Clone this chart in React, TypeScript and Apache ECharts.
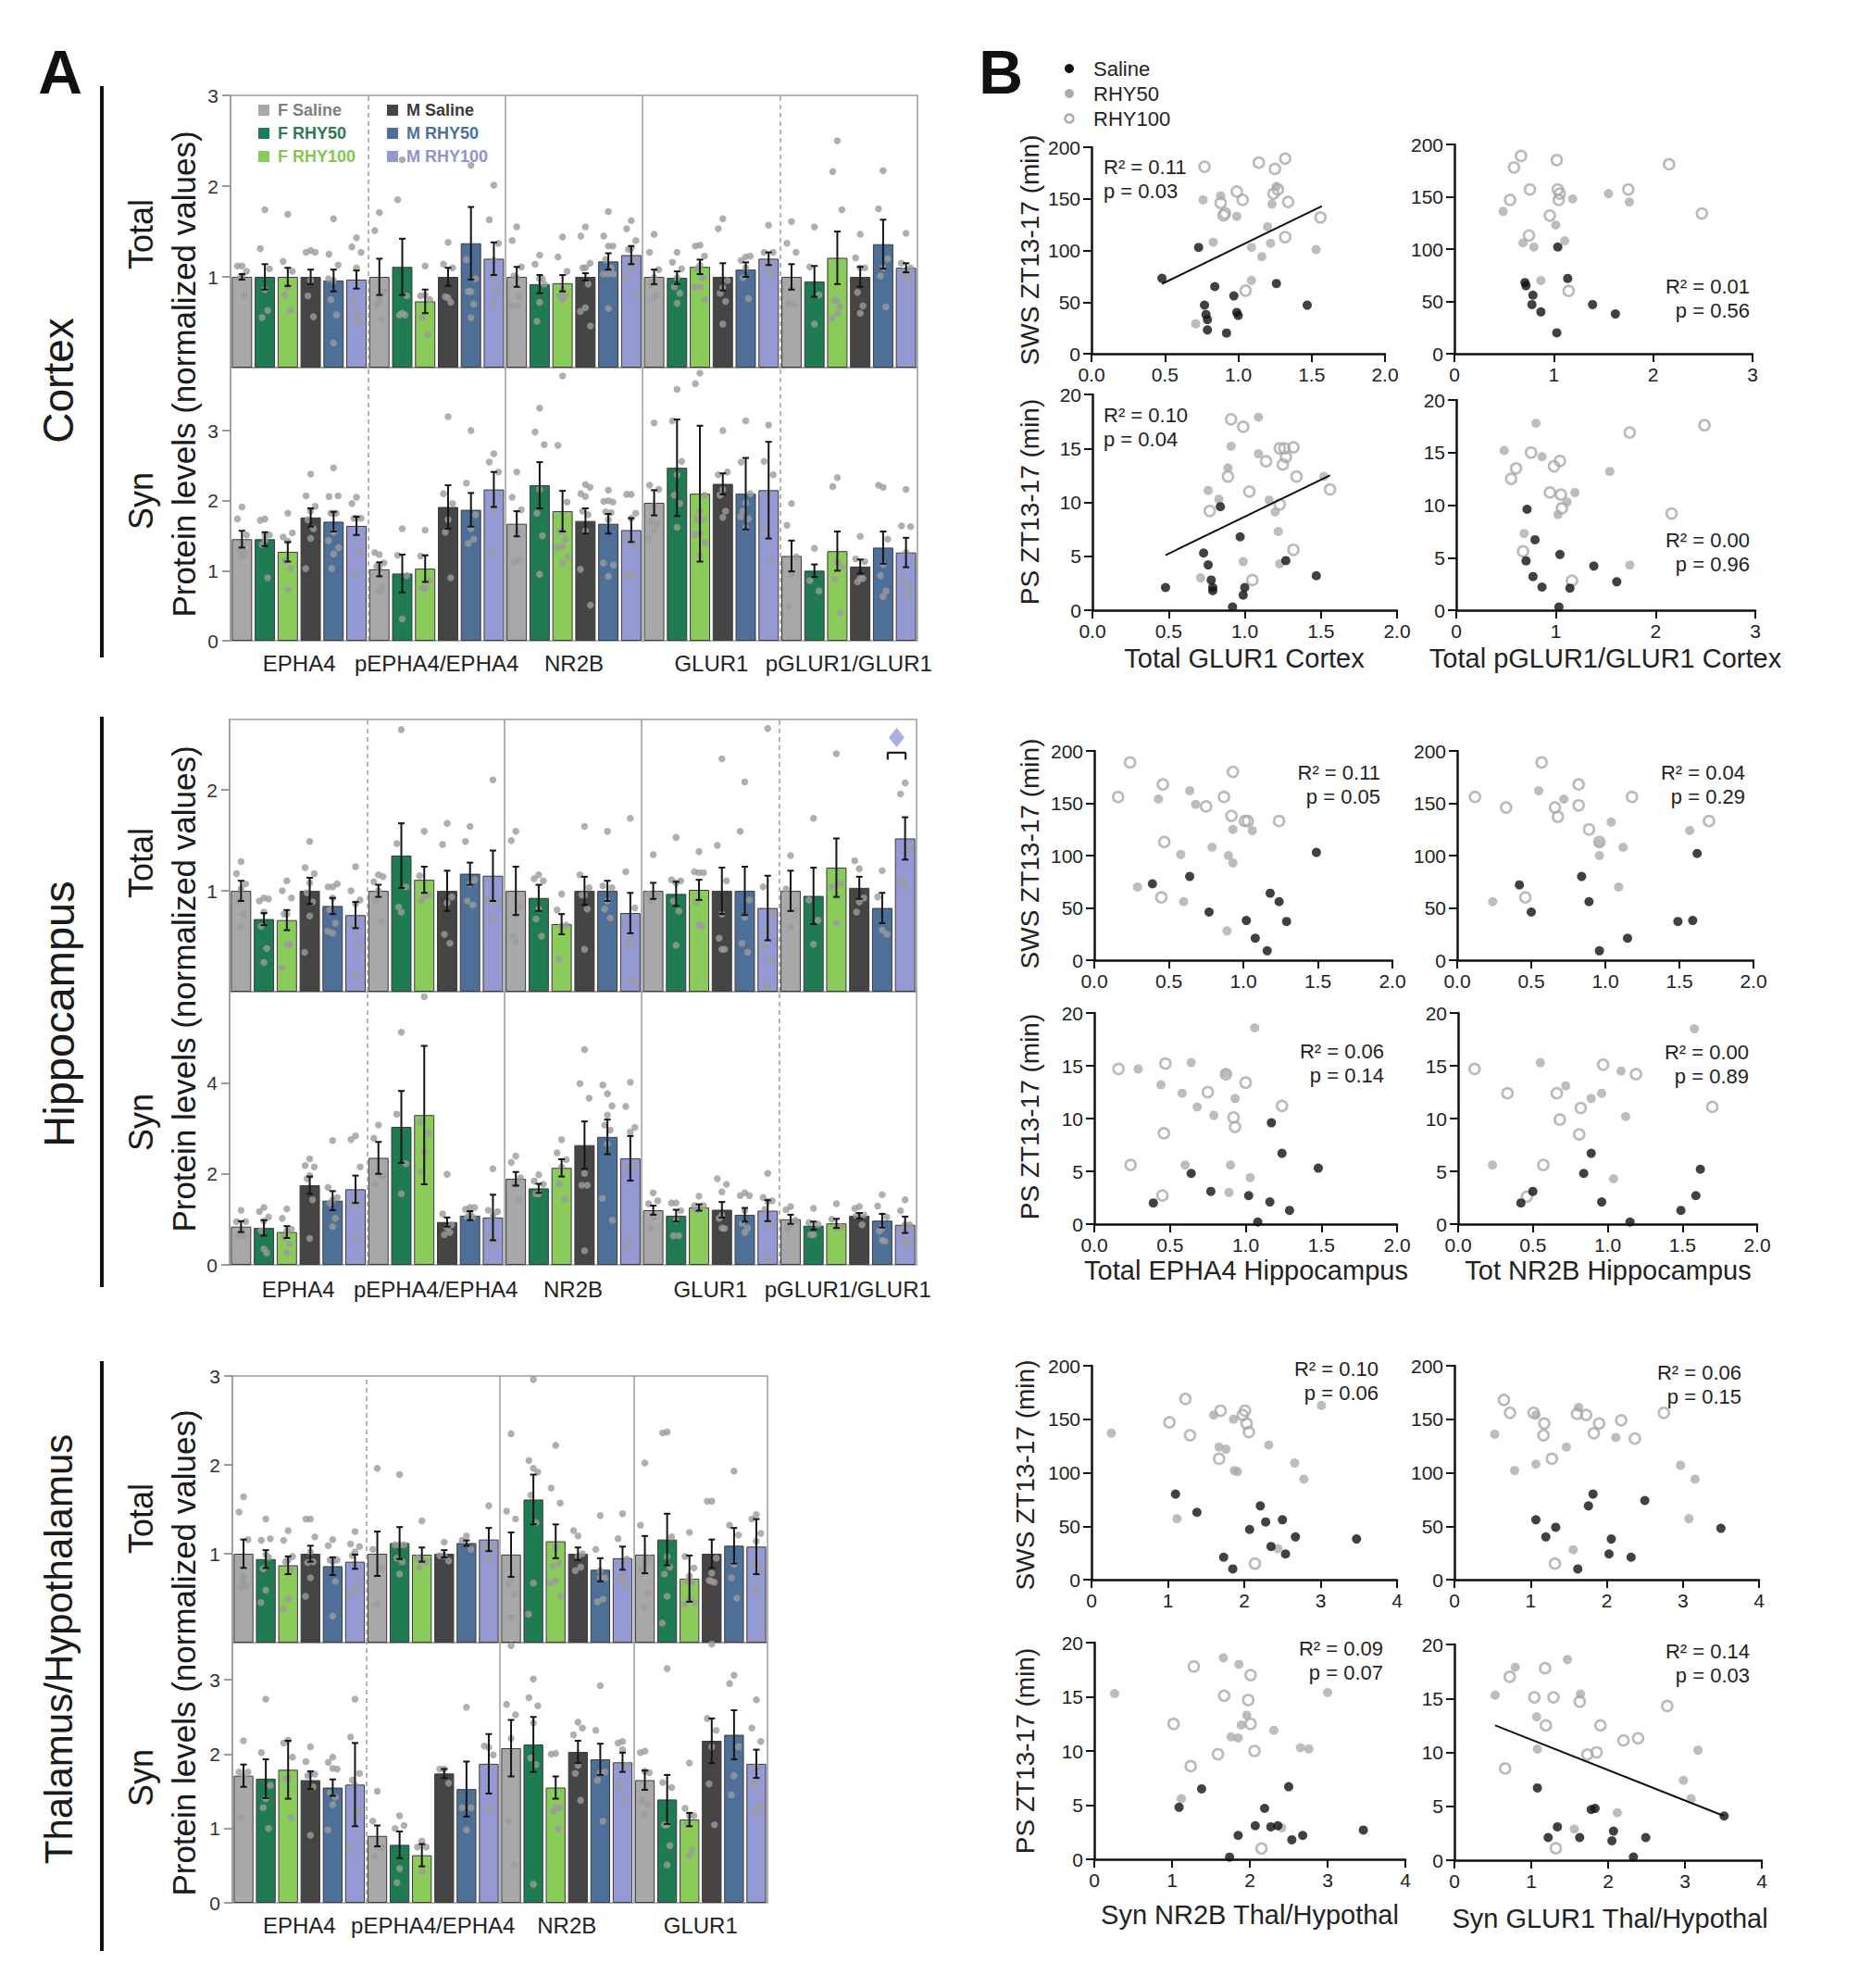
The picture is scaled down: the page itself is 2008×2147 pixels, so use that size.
import React, { useEffect, useRef } from "react";
import * as echarts from "echarts";

const FONT = "'Liberation Sans', Arial, Helvetica, sans-serif";
const W = 2008;
const H = 2147;

const GROUP_NAMES = ["F Saline", "F RHY50", "F RHY100", "M Saline", "M RHY50", "M RHY100"];
const GROUP_COLORS = ["#a8a8ab", "#1f7b51", "#8bcb59", "#454545", "#4e7098", "#9599d2"];
const LEGEND_TEXT_COLORS = ["#808080", "#2c7a52", "#86c650", "#3a3a3a", "#4e7098", "#8f93cf"];
const PROTEINS_5 = ["EPHA4", "pEPHA4/EPHA4", "NR2B", "GLUR1", "pGLUR1/GLUR1"];
const PROTEINS_4 = ["EPHA4", "pEPHA4/EPHA4", "NR2B", "GLUR1"];
const JITTER = [0, -0.2, 0.2, 0, -0.12, 0.12, 0, -0.22, 0.22, 0, -0.08, 0.08];

// ---------- Panel A: Cortex ----------
const CTX_TOTAL_MEAN = [
  [1.0, 1.0, 1.0, 1.0, 0.96, 0.97],
  [1.0, 1.11, 0.73, 1.0, 1.37, 1.2],
  [1.0, 0.92, 0.93, 1.0, 1.17, 1.24],
  [1.0, 0.99, 1.11, 1.0, 1.08, 1.2],
  [1.0, 0.95, 1.21, 1.0, 1.36, 1.1],
];
const CTX_TOTAL_SEM = [
  [0.03, 0.14, 0.1, 0.08, 0.12, 0.1],
  [0.2, 0.31, 0.13, 0.1, 0.4, 0.18],
  [0.11, 0.1, 0.09, 0.04, 0.09, 0.1],
  [0.08, 0.07, 0.08, 0.15, 0.08, 0.07],
  [0.14, 0.17, 0.29, 0.11, 0.27, 0.05],
];
const CTX_TOTAL_DOTS = [
  [[1.12, 1.12, 1.06, 1.01, 0.98, 0.8], [1.74, 1.31, 1.09, 0.86, 0.55, 0.63], [1.69, 1.17, 1.06, 0.89, 0.8, 0.63], [1.29, 1.27, 1.27, 0.96, 0.79, 0.56], [1.64, 1.25, 1.13, 0.96, 0.75, 0.58, 0.27, 0.98], [1.43, 1.33, 1.27, 1.1, 0.75, 0.51, 0.58]],
  [[1.71, 1.51, 0.84, 0.75, 0.69, 0.53], [2.29, 1.85, 0.79, 0.6, 0.58, 0.58], [1.12, 0.79, 0.75, 0.8, 0.55, 0.36], [1.38, 1.14, 1.1, 0.77, 0.78, 0.72], [2.23, 1.19, 0.98, 0.84, 0.84, 0.7, 0.55], [2.01, 1.63, 1.37, 1.18, 1.02, 0.86, 0.71]],
  [[1.55, 1.4, 1.11, 0.99, 1.01, 0.78, 0.68, 0.68], [1.24, 1.14, 0.92, 0.72, 0.51, 0.98, 0.98], [1.44, 1.22, 1.06, 0.86, 0.79, 0.79, 0.75], [1.55, 1.45, 1.15, 1.1, 1.1, 0.92, 0.66, 0.62, 0.46], [1.72, 1.45, 1.34, 1.34, 1.19, 1.1, 1.03, 1.03, 1.03, 0.65], [1.62, 1.53, 1.4, 1.31, 1.3, 1.18, 1.1, 0.99, 0.79]],
  [[1.47, 1.27, 1.08, 0.99, 0.92, 0.8, 0.77], [1.27, 1.16, 1.09, 0.99, 0.89, 0.82, 0.71], [1.35, 1.34, 1.23, 1.13, 1.09, 0.99, 0.89, 0.89, 0.75], [1.64, 1.53, 0.96, 0.88, 0.82, 0.73, 0.48], [1.22, 1.18, 1.23, 1.1, 0.99, 0.76], [1.57, 1.27, 1.27, 1.13, 1.13, 1.03]],
  [[1.61, 1.37, 1.27, 0.87, 0.7, 0.7], [1.55, 1.11, 0.8, 0.48], [2.5, 2.16, 1.74, 0.74, 0.74, 0.67, 0.6, 0.54], [1.47, 1.21, 1.1, 1.1, 0.83, 0.68, 0.6], [2.17, 1.75, 1.2, 1.1, 1.01, 0.67], [1.48, 1.15, 1.1, 1.03, 1.06, 0.97]],
];
const CTX_SYN_MEAN = [
  [1.45, 1.45, 1.27, 1.76, 1.7, 1.64],
  [1.02, 0.96, 1.03, 1.91, 1.87, 2.16],
  [1.67, 2.22, 1.85, 1.71, 1.67, 1.58],
  [1.97, 2.47, 2.1, 2.24, 2.1, 2.15],
  [1.21, 1.0, 1.28, 1.06, 1.33, 1.26],
];
const CTX_SYN_SEM = [
  [0.12, 0.1, 0.14, 0.13, 0.14, 0.13],
  [0.1, 0.27, 0.19, 0.31, 0.24, 0.25],
  [0.18, 0.33, 0.29, 0.18, 0.14, 0.17],
  [0.18, 0.69, 0.97, 0.15, 0.51, 0.69],
  [0.22, 0.09, 0.28, 0.1, 0.23, 0.21],
];
const CTX_SYN_DOTS = [
  [[1.91, 1.74, 1.51, 1.37, 1.31, 1.25, 1.21], [1.74, 1.72, 1.51, 1.51, 1.37, 0.9, 1.44], [1.82, 1.48, 1.54, 1.42, 1.14, 1.03, 0.73], [2.38, 2.07, 1.92, 1.85, 1.73, 1.6, 1.46, 1.03], [2.47, 2.06, 2.07, 1.82, 1.82, 1.82, 1.55, 1.43, 1.33, 1.24, 1.03], [2.05, 1.96, 1.75, 1.75, 1.75, 1.26, 0.95]],
  [[1.23, 1.26, 1.11, 1.06, 1.06, 0.77, 0.7], [1.6, 1.22, 0.93, 0.31], [1.58, 1.21, 0.86, 0.75, 0.75], [3.2, 2.1, 1.96, 1.73, 1.55, 0.9], [3.0, 2.25, 1.8, 1.6, 1.39, 1.45], [2.67, 2.55, 2.41, 1.88, 1.26]],
  [[2.41, 2.05, 1.87, 1.55, 1.12, 1.16], [3.32, 2.98, 2.8, 2.16, 1.82, 1.5, 0.95], [3.78, 2.79, 1.98, 1.56, 1.56, 1.45, 1.35, 1.33, 1.2, 1.11], [2.23, 2.1, 2.19, 2.06, 1.85, 1.8, 1.57, 1.02, 0.51], [2.15, 1.99, 1.98, 2.0, 1.84, 1.83, 1.73, 1.11, 1.08, 0.92], [2.09, 2.09, 1.82, 1.75, 1.45, 1.36, 0.93, 0.93]],
  [[3.11, 2.22, 2.16, 1.93, 1.7, 1.67, 1.58, 1.46], [3.59, 3.14, 2.56, 2.37, 2.08, 1.96, 1.62], [3.82, 3.67, 2.08, 1.85, 1.73, 1.73, 1.53, 1.51, 1.4, 1.21], [3.0, 2.37, 2.41, 2.16, 2.08, 1.85, 1.76], [3.14, 2.55, 2.1, 1.97, 1.85, 1.74, 1.62, 1.77], [3.08, 2.56, 2.37, 2.1, 1.6, 1.17]],
  [[1.96, 1.65, 1.2, 0.95, 0.5], [1.32, 0.86, 0.71], [2.33, 2.2, 1.05, 1.13, 0.88, 0.4], [1.49, 1.17, 1.13, 0.89, 0.84, 0.89], [2.19, 2.22, 1.45, 1.09, 0.93, 0.71, 0.63], [2.16, 1.64, 1.63, 1.26, 0.89, 0.75, 0.65]],
];

// ---------- Panel A: Hippocampus ----------
const HIPP_TOTAL_MEAN = [
  [1.0, 0.72, 0.71, 1.0, 0.85, 0.76],
  [1.0, 1.35, 1.11, 1.0, 1.17, 1.15],
  [1.0, 0.93, 0.67, 1.0, 1.0, 0.78],
  [1.0, 0.97, 1.01, 1.0, 1.0, 0.83],
  [1.0, 0.95, 1.23, 1.03, 0.83, 1.52],
];
const HIPP_TOTAL_SEM = [
  [0.1, 0.06, 0.1, 0.13, 0.08, 0.13],
  [0.06, 0.32, 0.13, 0.2, 0.11, 0.25],
  [0.24, 0.13, 0.1, 0.14, 0.1, 0.2],
  [0.08, 0.12, 0.1, 0.23, 0.24, 0.32],
  [0.2, 0.28, 0.29, 0.11, 0.15, 0.21],
];
const HIPP_TOTAL_DOTS = [
  [[1.29, 1.17, 1.07, 1.02, 0.9, 0.77, 0.64], [0.93, 0.9, 0.92, 0.79, 0.65, 0.43, 0.29], [1.1, 1.0, 0.93, 0.77, 0.77, 0.47, 0.47, 0.24], [1.49, 1.23, 1.17, 1.08, 0.98, 0.89, 0.75, 0.39], [1.04, 1.04, 1.07, 0.93, 0.81, 0.68, 0.58, 0.6], [1.24, 1.0, 0.91, 0.87, 0.67, 0.45, 0.16]],
  [[1.16, 1.09, 1.14, 1.0, 0.91, 0.7], [2.6, 1.47, 1.04, 0.79, 0.84], [1.59, 1.15, 0.96, 0.95, 0.9], [1.67, 1.46, 0.94, 0.88, 0.57, 0.48], [1.64, 1.49, 1.11, 1.07, 0.9, 0.86], [2.1, 0.91, 0.88, 0.72]],
  [[1.59, 1.5, 0.85, 0.5, 0.55], [1.16, 1.12, 1.1, 0.82, 0.72, 0.55], [0.97, 0.81, 0.66, 0.65, 0.32], [1.64, 1.16, 1.03, 0.96, 0.96, 0.82, 0.42], [1.59, 1.05, 1.03, 0.9, 0.82, 0.73], [1.72, 1.19, 0.83, 0.5, 0.46, 0.11]],
  [[1.36, 0.97, 0.96, 0.93, 0.9], [1.53, 1.11, 1.1, 1.08, 0.9, 0.8, 0.46], [1.39, 1.19, 1.18, 1.18, 0.89, 0.65, 0.66], [2.31, 1.45, 1.1, 0.77, 0.53, 0.42, 0.42], [2.08, 1.59, 0.91, 0.74, 0.48, 0.39], [2.61, 1.04, 0.77, 0.6, 0.45, 0.32, 0.05]],
  [[1.35, 1.02, 0.81, 0.64], [1.72, 0.91, 0.71, 0.47], [2.36, 1.04, 1.07, 0.68], [1.22, 1.3, 0.93, 0.89, 0.79], [1.2, 0.94, 0.57, 0.61], [2.07, 1.96, 1.42, 1.04, 1.09]],
];
const HIPP_SIG_MARK = [[29.13, 2.52]];
const HIPP_SIG_BRACKET = [[28.74, 2.3], [28.74, 2.37], [29.52, 2.37], [29.52, 2.3]];
const HIPP_SYN_MEAN = [
  [0.84, 0.81, 0.72, 1.75, 1.41, 1.66],
  [2.35, 3.03, 3.29, 0.94, 1.08, 1.04],
  [1.89, 1.68, 2.13, 2.63, 2.81, 2.34],
  [1.2, 1.08, 1.26, 1.21, 1.1, 1.19],
  [1.0, 0.86, 0.91, 1.08, 0.97, 0.88],
];
const HIPP_SYN_SEM = [
  [0.12, 0.17, 0.13, 0.19, 0.21, 0.3],
  [0.35, 0.79, 1.52, 0.1, 0.1, 0.5],
  [0.15, 0.1, 0.19, 0.52, 0.38, 0.49],
  [0.1, 0.13, 0.07, 0.17, 0.15, 0.23],
  [0.1, 0.09, 0.1, 0.06, 0.15, 0.18],
];
const HIPP_SYN_DOTS = [
  [[1.2, 0.95, 0.95, 0.75, 0.64, 0.64], [1.26, 1.17, 1.05, 0.96, 0.75, 0.26, 0.35], [1.23, 1.02, 0.78, 0.75, 0.6, 0.45, 0.27], [2.33, 2.18, 2.15, 1.96, 1.89, 1.43, 0.58], [2.73, 1.7, 1.48, 1.43, 1.36, 1.02, 0.84], [2.83, 2.75, 2.15, 1.56, 1.36, 1.36, 0.58]],
  [[3.07, 2.78, 1.94, 1.99, 1.77], [5.11, 3.31, 2.22, 1.56], [5.89, 3.13, 2.9, 2.49, 2.04], [1.99, 1.12, 0.88, 0.81, 0.66, 0.71], [1.26, 1.22, 1.26, 1.14, 1.05, 1.05], [2.11, 1.2, 1.17, 1.08, 0.6, 0.48, 0.55]],
  [[2.39, 2.25, 1.91, 1.77, 1.77, 1.43], [1.98, 1.84, 1.77, 1.56, 1.56], [2.75, 2.46, 2.31, 2.15, 1.78, 1.44], [4.73, 3.98, 3.66, 2.01, 1.75, 1.75, 0.31], [3.76, 3.95, 3.49, 3.29, 3.07, 2.96, 2.66, 1.46, 0.98], [4.01, 3.48, 3.02, 2.92, 2.15, 2.15, 0.54, 0.36]],
  [[1.58, 1.34, 1.41, 1.05, 0.8], [1.36, 1.36, 1.19, 0.98, 0.64, 0.64], [1.51, 1.3, 1.3, 1.22, 1.2], [1.6, 1.89, 1.77, 1.1, 1.02, 0.8, 0.81], [1.58, 1.52, 1.52, 1.19, 0.91, 0.81, 0.71], [2.01, 1.48, 1.41, 1.39, 1.22, 0.88, 0.14]],
  [[1.28, 1.21, 0.98, 0.88, 0.8], [1.24, 0.93, 0.89, 0.66, 0.66], [1.34, 1.0, 0.83, 0.81], [1.28, 1.24, 1.1, 1.08, 1.08, 0.88], [1.54, 1.29, 1.05, 0.81, 0.74, 0.52, 0.54], [1.43, 1.19, 0.88, 0.88, 0.71, 0.48, 0.52]],
];

// ---------- Panel A: Thalamus/Hypothalamus ----------
const THAL_TOTAL_MEAN = [
  [1.0, 0.94, 0.87, 1.0, 0.86, 0.91],
  [1.0, 1.12, 0.99, 1.0, 1.12, 1.16],
  [0.99, 1.61, 1.14, 1.0, 0.82, 0.95],
  [0.99, 1.16, 0.72, 1.0, 1.09, 1.08],
];
const THAL_TOTAL_SEM = [
  [0.16, 0.1, 0.1, 0.09, 0.1, 0.08],
  [0.25, 0.18, 0.08, 0.04, 0.03, 0.13],
  [0.25, 0.28, 0.19, 0.07, 0.13, 0.13],
  [0.21, 0.29, 0.26, 0.16, 0.2, 0.31],
];
const THAL_TOTAL_DOTS = [
  [[1.64, 1.47, 1.16, 0.69, 0.62, 0.63, 0.75], [1.39, 1.15, 1.17, 0.99, 0.83, 0.96, 0.59, 0.45], [1.26, 1.15, 0.97, 0.93, 0.91, 0.82, 0.49, 0.38], [1.39, 1.39, 1.19, 1.02, 0.9, 0.91, 0.73, 0.52], [1.16, 1.09, 0.93, 0.91, 0.93, 0.69, 0.3], [1.25, 1.11, 1.08, 1.02, 0.98, 0.63, 0.62, 0.55]],
  [[1.96, 1.05, 0.83, 0.43], [1.89, 1.1, 1.1, 1.1, 0.95, 0.91, 0.77], [1.37, 0.95, 0.91, 0.95, 0.85], [1.13, 0.98, 0.92, 0.98], [1.2, 1.15, 1.05], [1.54, 1.09, 1.05, 0.95]],
  [[2.35, 1.48, 1.39, 0.72, 0.66, 0.54, 0.28], [2.96, 2.05, 1.92, 1.96, 1.66, 1.35, 0.67, 0.32], [2.22, 1.74, 1.57, 1.07, 0.86, 0.89, 0.7, 0.67, 0.52], [1.2, 1.26, 1.0, 0.97, 0.81, 0.85], [1.43, 1.05, 0.73, 0.73, 0.46, 0.49, 0.81], [1.45, 1.17, 0.94, 0.75, 0.71, 0.66]],
  [[2.02, 1.32, 0.95, 0.89, 0.82, 0.55, 0.39], [2.37, 2.36, 1.19, 0.97, 0.77, 0.85, 0.52, 0.22], [1.24, 0.97, 0.84, 0.75, 0.69, 0.68, 0.49, 0.43, 0.45], [1.59, 1.59, 0.95, 0.78, 0.7, 0.68, 0.69], [1.93, 1.32, 1.21, 0.88, 0.73, 0.5], [1.44, 1.39, 1.23, 1.14, 0.89, 0.83, 0.61]],
];
const THAL_SYN_MEAN = [
  [1.71, 1.67, 1.79, 1.65, 1.55, 1.59],
  [0.9, 0.78, 0.64, 1.74, 1.53, 1.87],
  [2.08, 2.13, 1.55, 2.03, 1.93, 1.89],
  [1.65, 1.39, 1.12, 2.18, 2.26, 1.87],
];
const THAL_SYN_SEM = [
  [0.15, 0.26, 0.39, 0.12, 0.11, 0.56],
  [0.14, 0.18, 0.15, 0.06, 0.37, 0.4],
  [0.38, 0.37, 0.15, 0.15, 0.21, 0.13],
  [0.13, 0.33, 0.09, 0.3, 0.33, 0.19],
];
const THAL_SYN_DOTS = [
  [[2.18, 1.76, 1.76, 1.7, 1.15], [2.74, 2.02, 1.58, 1.4, 1.28, 1.0], [2.19, 2.15, 1.96, 1.67, 1.67, 1.15], [2.1, 1.9, 1.73, 1.73, 1.71, 1.56, 0.91], [1.96, 1.89, 1.8, 1.81, 1.48, 1.42, 1.32, 0.98], [2.74, 2.23, 1.74, 1.58, 1.65, 1.24, 1.13, 0.72]],
  [[1.5, 1.1, 0.74, 0.75, 0.63], [1.17, 1.0, 1.04, 0.46, 0.27], [0.83, 0.75, 0.75, 0.42], [1.8, 1.8, 1.61], [2.63, 1.28, 1.28, 0.98], [2.09, 2.11, 1.99, 1.27]],
  [[3.46, 2.67, 2.53, 2.21, 1.1, 0.51], [3.01, 2.76, 2.65, 2.42, 1.95, 1.86, 0.25], [2.01, 2.0, 1.28, 1.28, 1.23, 1.0], [2.43, 2.26, 2.35, 1.85, 1.74, 1.38], [2.92, 2.32, 1.76, 1.75, 1.65, 1.1], [2.17, 2.15, 1.85, 2.06, 1.59, 1.37]],
  [[2.04, 2.02, 1.75, 1.77, 1.38, 1.32, 1.19], [3.15, 1.62, 1.55, 1.05, 1.05, 0.77, 0.51], [1.88, 1.27, 1.17, 1.17, 1.06, 0.71, 0.63], [3.48, 2.48, 2.32, 2.1, 1.6, 1.05], [3.06, 2.95, 2.1, 1.71, 1.45], [2.73, 2.35, 2.17, 1.83, 1.6, 1.3, 1.25]],
];

// ---------- Panel B: scatter data ----------
const C_SWS_GLUR1_SAL = [[0.73, 103], [0.48, 73], [0.84, 65], [0.97, 56], [1.26, 68], [0.77, 47], [0.78, 38], [0.79, 33], [0.99, 40], [1.0, 37], [1.47, 47], [0.79, 23], [0.92, 20]];
const C_SWS_GLUR1_R50 = [[0.76, 149], [0.88, 153], [0.99, 133], [0.83, 108], [1.2, 123], [1.23, 145], [1.26, 162], [1.22, 107], [1.09, 103], [1.16, 94], [1.09, 71], [1.53, 101], [0.71, 29]];
const C_SWS_GLUR1_R100 = [[0.77, 181], [1.14, 185], [1.25, 179], [1.32, 189], [0.99, 157], [1.03, 149], [0.88, 146], [0.9, 134], [0.91, 136], [1.34, 147], [1.56, 132], [1.32, 113], [1.05, 61], [1.24, 155], [1.27, 159]];
const C_SWS_PGLUR1_SAL = [[1.04, 102], [0.71, 68], [0.72, 65], [1.14, 72], [0.79, 56], [0.78, 47], [0.87, 40], [1.39, 47], [1.62, 38], [1.03, 20]];
const C_SWS_PGLUR1_R50 = [[0.49, 136], [0.69, 106], [0.8, 102], [0.87, 70], [1.02, 123], [1.19, 148], [1.11, 108], [1.55, 153], [1.76, 145]];
const C_SWS_PGLUR1_R100 = [[0.67, 189], [0.6, 178], [1.03, 185], [0.56, 147], [0.76, 157], [1.04, 157], [1.06, 153], [1.05, 147], [0.96, 132], [0.75, 113], [2.16, 181], [1.75, 157], [2.49, 134], [1.15, 60]];
const C_PS_GLUR1_SAL = [[0.48, 2.1], [0.73, 5.3], [0.76, 4.2], [0.78, 2.8], [0.79, 2.1], [0.79, 1.8], [0.84, 9.6], [0.97, 6.8], [1.0, 2.1], [0.99, 1.4], [0.92, 0.3], [1.27, 4.6], [1.47, 3.2]];
const C_PS_GLUR1_R50 = [[0.76, 11.1], [0.89, 13.2], [0.91, 15.2], [0.83, 10.3], [1.09, 17.9], [1.09, 14.5], [1.16, 10.2], [1.2, 9.1], [1.22, 7.3], [0.99, 4.5], [1.23, 4.3], [1.52, 12.4], [0.71, 3.0]];
const C_PS_GLUR1_R100 = [[0.91, 17.7], [0.99, 17.0], [1.14, 13.8], [1.23, 15.0], [1.26, 15.0], [1.32, 15.1], [1.27, 14.2], [1.25, 13.5], [1.34, 12.4], [0.89, 12.4], [1.03, 11.0], [1.23, 9.8], [0.77, 9.2], [1.56, 11.2], [1.32, 5.6], [1.05, 2.8]];
const C_PS_PGLUR1_SAL = [[0.71, 9.6], [0.79, 6.7], [0.7, 4.7], [1.04, 5.3], [0.77, 3.2], [0.86, 2.2], [1.14, 2.1], [1.38, 4.2], [1.61, 2.7], [1.03, 0.3]];
const C_PS_PGLUR1_R50 = [[0.48, 15.2], [0.8, 17.8], [0.86, 14.6], [1.19, 11.2], [1.11, 10.3], [1.02, 9.1], [0.68, 7.3], [1.54, 13.2], [1.74, 4.3]];
const C_PS_PGLUR1_R100 = [[0.75, 15.0], [0.6, 13.5], [0.55, 12.5], [0.98, 13.7], [1.04, 14.2], [0.94, 11.2], [1.05, 11.0], [1.06, 9.7], [0.67, 5.6], [1.16, 2.8], [1.74, 16.9], [2.49, 17.6], [2.16, 9.2]];

const H_SWS_EPHA4_SAL = [[0.39, 73], [0.64, 80], [0.77, 46], [1.02, 38], [1.18, 64], [1.24, 56], [1.29, 37], [1.08, 21], [1.16, 9], [1.49, 103]];
const H_SWS_EPHA4_R50 = [[0.29, 70], [0.43, 154], [0.64, 162], [0.68, 149], [0.79, 108], [0.58, 101], [0.6, 56], [0.9, 100], [0.93, 93], [0.93, 125], [1.06, 124], [0.89, 28]];
const H_SWS_EPHA4_R100 = [[0.24, 189], [0.16, 156], [0.46, 168], [0.47, 113], [0.45, 60], [0.75, 147], [0.87, 156], [0.93, 180], [0.92, 138], [1.01, 133], [1.03, 133], [1.24, 133]];
const H_SWS_NR2B_SAL = [[0.42, 72], [0.5, 46], [0.84, 80], [0.89, 56], [0.96, 9], [1.15, 21], [1.49, 37], [1.59, 38], [1.62, 102]];
const H_SWS_NR2B_R50 = [[0.24, 56], [0.55, 162], [0.72, 154], [0.96, 112], [0.96, 100], [1.04, 132], [1.12, 108], [1.09, 70], [1.57, 124]];
const H_SWS_NR2B_R100 = [[0.12, 156], [0.33, 146], [0.57, 189], [0.66, 146], [0.68, 137], [0.82, 168], [0.82, 148], [0.89, 125], [0.96, 113], [1.18, 156], [1.7, 133], [0.46, 60]];
const H_PS_EPHA4_SAL = [[0.39, 2.0], [0.64, 4.8], [0.77, 3.1], [1.02, 2.7], [1.08, 0.2], [1.16, 2.1], [1.17, 9.6], [1.24, 6.7], [1.29, 1.3], [1.48, 5.3]];
const H_PS_EPHA4_R50 = [[0.29, 14.7], [0.44, 13.2], [0.58, 12.4], [0.64, 15.3], [0.68, 11.1], [0.79, 10.3], [0.87, 14.3], [0.93, 11.9], [0.9, 5.6], [0.6, 5.6], [0.89, 3.0], [1.03, 4.4], [1.06, 18.6]];
const H_PS_EPHA4_R100 = [[0.16, 14.7], [0.24, 5.6], [0.47, 15.2], [0.46, 8.6], [0.45, 2.7], [0.75, 12.5], [0.87, 14.2], [1.0, 13.4], [0.92, 10.1], [0.93, 9.2], [1.24, 11.2]];
const H_PS_NR2B_SAL = [[0.42, 2.0], [0.5, 3.1], [0.84, 4.8], [0.89, 6.7], [0.96, 2.1], [1.15, 0.2], [1.49, 1.3], [1.59, 2.7], [1.62, 5.2]];
const H_PS_NR2B_R50 = [[0.23, 5.6], [0.55, 15.3], [0.72, 13.1], [0.89, 11.9], [0.96, 12.4], [1.09, 14.5], [1.12, 10.2], [1.04, 4.3], [1.58, 18.5]];
const H_PS_NR2B_R100 = [[0.11, 14.7], [0.33, 12.4], [0.57, 5.6], [0.46, 2.6], [0.66, 12.4], [0.68, 9.9], [0.82, 11.0], [0.81, 8.5], [0.97, 15.1], [1.19, 14.2], [1.7, 11.1]];

const T_SWS_NR2B_SAL = [[1.1, 80], [1.38, 63], [1.73, 21], [1.85, 10], [2.07, 47], [2.21, 69], [2.28, 54], [2.35, 31], [2.5, 56], [2.54, 24], [2.67, 40], [3.47, 38]];
const T_SWS_NR2B_R50 = [[0.26, 137], [1.12, 57], [1.6, 154], [1.86, 150], [1.67, 124], [1.76, 122], [1.87, 102], [1.91, 101], [2.32, 126], [2.66, 109], [2.78, 94], [2.44, 29], [3.01, 163]];
const T_SWS_NR2B_R100 = [[1.23, 169], [1.02, 147], [1.29, 135], [1.69, 158], [1.67, 113], [2.01, 158], [1.98, 154], [2.03, 146], [2.06, 138], [2.14, 15]];
const T_SWS_GLUR1_SAL = [[1.07, 56], [1.2, 40], [1.33, 49], [1.62, 10], [1.76, 69], [1.82, 80], [2.03, 24], [2.06, 38], [2.32, 21], [2.5, 74], [3.5, 48]];
const T_SWS_GLUR1_R50 = [[0.53, 136], [0.79, 102], [1.07, 154], [1.07, 108], [1.47, 124], [1.63, 161], [1.56, 28], [2.12, 133], [2.97, 107], [3.16, 94], [3.08, 57]];
const T_SWS_GLUR1_R100 = [[0.65, 168], [0.73, 156], [1.04, 156], [1.18, 146], [1.17, 135], [1.28, 113], [1.61, 155], [1.73, 154], [1.9, 146], [1.83, 137], [2.19, 149], [2.37, 132], [2.75, 156], [1.32, 15]];
const T_PS_NR2B_SAL = [[1.09, 4.8], [1.38, 6.5], [1.74, 0.2], [1.85, 2.2], [2.07, 3.1], [2.19, 4.7], [2.27, 3.0], [2.36, 3.1], [2.5, 6.7], [2.54, 1.8], [2.68, 2.2], [3.46, 2.7]];
const T_PS_NR2B_R50 = [[0.26, 15.3], [1.12, 5.6], [1.66, 18.6], [1.86, 18.0], [1.76, 11.3], [1.85, 11.2], [1.89, 12.4], [1.96, 13.3], [2.31, 11.9], [2.65, 10.3], [2.76, 10.2], [2.41, 2.9], [3.0, 15.4]];
const T_PS_NR2B_R100 = [[1.28, 17.8], [1.02, 12.5], [1.24, 8.6], [1.67, 15.1], [1.59, 9.7], [2.01, 17.0], [1.98, 14.7], [2.01, 12.5], [2.06, 10.0], [2.15, 1.0]];
const T_PS_GLUR1_SAL = [[1.08, 6.7], [1.22, 2.1], [1.34, 3.1], [1.63, 2.1], [1.78, 4.7], [1.83, 4.8], [2.05, 1.8], [2.07, 2.7], [2.33, 0.3], [2.49, 2.1], [3.51, 4.1]];
const T_PS_GLUR1_R50 = [[0.53, 15.3], [0.79, 17.9], [1.08, 10.3], [1.07, 13.3], [1.47, 18.6], [1.64, 15.4], [1.56, 2.9], [2.12, 4.4], [2.98, 7.4], [3.08, 5.7], [3.17, 10.2]];
const T_PS_GLUR1_R100 = [[0.66, 8.5], [0.72, 17.0], [1.04, 15.1], [1.18, 17.8], [1.19, 12.5], [1.29, 15.1], [1.63, 14.7], [1.73, 9.8], [1.85, 10.0], [1.9, 12.5], [2.2, 11.1], [2.39, 11.3], [2.77, 14.3], [1.32, 1.1]];

const FIT_C_SWS_GLUR1 = [[0.48, 67.7], [1.57, 143]];
const FIT_C_PS_GLUR1 = [[0.48, 5.1], [1.56, 12.5]];
const FIT_T_PS_GLUR1 = [[0.53, 12.5], [3.51, 4.1]];

const STATS_R2 = ["0.11", "0.01", "0.10", "0.00", "0.11", "0.04", "0.06", "0.00", "0.10", "0.06", "0.09", "0.14"];
const STATS_P = ["0.03", "0.56", "0.04", "0.96", "0.05", "0.29", "0.14", "0.89", "0.06", "0.15", "0.07", "0.03"];
const SCATTER_LEGEND = ["Saline", "RHY50", "RHY100"];

function errRender(params: any, api: any) {
  const x = api.value(0);
  const lo = api.value(1);
  const hi = api.value(2);
  const a = api.coord([x, hi]);
  const b = api.coord([x, lo]);
  const w = 3.5;
  const st = { stroke: "#151515", lineWidth: 2 };
  return {
    type: "group",
    children: [
      { type: "line", shape: { x1: a[0], y1: a[1], x2: b[0], y2: b[1] }, style: st },
      { type: "line", shape: { x1: a[0] - w, y1: a[1], x2: a[0] + w, y2: a[1] }, style: st },
      { type: "line", shape: { x1: b[0] - w, y1: b[1], x2: b[0] + w, y2: b[1] }, style: st },
    ],
  };
}

function addBarPanel(o: any, c: any) {
  const nBars = c.means.length * 6;
  const gi = o.grid.length;
  o.grid.push({ left: c.left, top: c.top, width: c.width, height: c.height, show: true, borderColor: "#9b9b9b", borderWidth: 1.5, backgroundColor: "transparent" });
  const xi = o.xAxis.length;
  o.xAxis.push({ type: "value", gridIndex: gi, min: 0, max: nBars, show: false, splitLine: { show: false } });
  if (c.labels) {
    o.xAxis.push({
      type: "category", gridIndex: gi, data: c.labels, position: "bottom",
      axisLine: { show: false }, axisTick: { show: false }, splitLine: { show: false },
      axisLabel: { margin: c.labelMargin, fontSize: 24, color: "#222", fontFamily: FONT, interval: 0 },
    });
  }
  const yi = o.yAxis.length;
  o.yAxis.push({
    type: "value", gridIndex: gi, min: 0, max: c.yMax, interval: c.yInterval,
    axisLine: { show: true, lineStyle: { color: "#9b9b9b", width: 1.5 } },
    axisTick: { show: true, length: 9, lineStyle: { color: "#8f8f8f", width: 1.8 } },
    splitLine: { show: false },
    axisLabel: { showMinLabel: c.showMin, showMaxLabel: c.showMax, fontSize: 21, color: "#333", margin: 13, fontFamily: FONT },
  });
  const barData: any[] = [];
  const errData: any[] = [];
  const dotData: any[] = [];
  c.means.forEach((row: number[], p: number) =>
    row.forEach((m: number, g: number) => {
      const x = p * 6 + g + 0.5;
      barData.push({ value: [x, m], itemStyle: { color: GROUP_COLORS[g] } });
      errData.push([x, m - c.sems[p][g], m + c.sems[p][g]]);
      c.dots[p][g].forEach((v: number, k: number) => dotData.push([x + JITTER[k % JITTER.length], v]));
    })
  );
  o.series.push({
    type: "bar", xAxisIndex: xi, yAxisIndex: yi, barWidth: c.width / nBars - 2.8, data: barData,
    itemStyle: { borderColor: "#3a3a3a", borderWidth: 1 }, z: 2, silent: true,
    markLine: {
      silent: true, symbol: ["none", "none"], label: { show: false },
      data: c.separators.map((s: any) => ({ xAxis: s.x, lineStyle: { type: s.dashed ? [5, 4] : "solid", color: "#9b9b9b", width: 1.5 } })),
    },
  });
  o.series.push({ type: "scatter", xAxisIndex: xi, yAxisIndex: yi, data: dotData, symbolSize: 7.5, itemStyle: { color: "#9b9b9b" }, z: 3, silent: true });
  o.series.push({ type: "custom", xAxisIndex: xi, yAxisIndex: yi, data: errData, renderItem: errRender, encode: { x: 0, y: [1, 2] }, z: 4, silent: true });
  return { xi, yi };
}

function addScatterPanel(o: any, c: any, idx: number) {
  const gi = o.grid.length;
  o.grid.push({ left: c.left, top: c.top, width: c.width, height: c.height });
  const xi = o.xAxis.length;
  o.xAxis.push({
    type: "value", gridIndex: gi, min: 0, max: c.xMax, interval: c.xInt,
    axisLine: { show: true, onZero: false, lineStyle: { color: "#111", width: 2.5 } },
    axisTick: { show: true, length: 9, lineStyle: { color: "#111", width: 2 } },
    splitLine: { show: false },
    axisLabel: { fontSize: 21, color: "#222", margin: 12, fontFamily: FONT, formatter: (v: number) => (c.dec ? v.toFixed(1) : String(v)) },
  });
  const yi = o.yAxis.length;
  o.yAxis.push({
    type: "value", gridIndex: gi, min: 0, max: c.yMax, interval: c.yInt,
    axisLine: { show: true, onZero: false, lineStyle: { color: "#111", width: 2.5 } },
    axisTick: { show: true, length: 9, lineStyle: { color: "#111", width: 2 } },
    splitLine: { show: false },
    axisLabel: { fontSize: 21, color: "#222", margin: 12, fontFamily: FONT },
  });
  o.series.push({ type: "scatter", xAxisIndex: xi, yAxisIndex: yi, data: c.r50, symbolSize: 10, itemStyle: { color: "#acacac" }, z: 3, silent: true });
  o.series.push({ type: "scatter", xAxisIndex: xi, yAxisIndex: yi, data: c.r100, symbolSize: 11, itemStyle: { color: "transparent", borderColor: "#a9a9a9", borderWidth: 2.6 }, z: 3, silent: true });
  o.series.push({ type: "scatter", xAxisIndex: xi, yAxisIndex: yi, data: c.sal, symbolSize: 10, itemStyle: { color: "#111" }, z: 4, silent: true });
  if (c.fit) {
    o.series.push({ type: "line", xAxisIndex: xi, yAxisIndex: yi, data: c.fit, symbol: "none", lineStyle: { color: "#111", width: 2 }, z: 5, silent: true });
  }
  const align = c.statAlign;
  o.graphic.push({ type: "text", x: c.statX, y: c.statY, z: 50, style: { text: "R\u00b2 = " + STATS_R2[idx], fontSize: 22, fontFamily: FONT, fill: "#222", align, verticalAlign: "middle" } });
  o.graphic.push({ type: "text", x: c.statX, y: c.statY + 26, z: 50, style: { text: "p = " + STATS_P[idx], fontSize: 22, fontFamily: FONT, fill: "#222", align, verticalAlign: "middle" } });
  if (c.yTitle) {
    o.graphic.push({ type: "text", x: c.yTitle[1], y: c.yTitle[2], rotation: Math.PI / 2, z: 50, style: { text: c.yTitle[0], fontSize: 28, fontFamily: FONT, fill: "#222", align: "center", verticalAlign: "middle" } });
  }
  if (c.xTitle) {
    o.graphic.push({ type: "text", x: c.xTitle[1], y: c.xTitle[2], z: 50, style: { text: c.xTitle[0], fontSize: 29, fontFamily: FONT, fill: "#222", align: "center", verticalAlign: "middle" } });
  }
}

function vText(o: any, text: string, x: number, y: number, size: number, weight?: string) {
  o.graphic.push({ type: "text", x, y, rotation: Math.PI / 2, z: 50, style: { text, fontSize: size, fontFamily: FONT, fontWeight: weight || "normal", fill: "#1a1a1a", align: "center", verticalAlign: "middle" } });
}

function buildOption() {
  const o: any = { animation: false, backgroundColor: "#ffffff", textStyle: { fontFamily: FONT }, grid: [], xAxis: [], yAxis: [], series: [], graphic: [] };

  const SEP5 = [{ x: 6, dashed: true }, { x: 12, dashed: false }, { x: 18, dashed: false }, { x: 24, dashed: true }];
  const SEP4 = [{ x: 6, dashed: true }, { x: 12, dashed: false }, { x: 18, dashed: false }];

  addBarPanel(o, { left: 249, top: 103, width: 742, height: 294, means: CTX_TOTAL_MEAN, sems: CTX_TOTAL_SEM, dots: CTX_TOTAL_DOTS, yMax: 3, yInterval: 1, showMin: false, showMax: true, separators: SEP5 });
  addBarPanel(o, { left: 249, top: 397, width: 742, height: 295, means: CTX_SYN_MEAN, sems: CTX_SYN_SEM, dots: CTX_SYN_DOTS, yMax: 3.9, yInterval: 1, showMin: true, showMax: false, separators: SEP5, labels: PROTEINS_5, labelMargin: 12 });
  const hT = addBarPanel(o, { left: 248, top: 777, width: 742, height: 294, means: HIPP_TOTAL_MEAN, sems: HIPP_TOTAL_SEM, dots: HIPP_TOTAL_DOTS, yMax: 2.7, yInterval: 1, showMin: false, showMax: false, separators: SEP5 });
  addBarPanel(o, { left: 248, top: 1071, width: 742, height: 295, means: HIPP_SYN_MEAN, sems: HIPP_SYN_SEM, dots: HIPP_SYN_DOTS, yMax: 6, yInterval: 2, showMin: true, showMax: false, separators: SEP5, labels: PROTEINS_5, labelMargin: 14 });
  addBarPanel(o, { left: 251, top: 1486, width: 578, height: 288, means: THAL_TOTAL_MEAN, sems: THAL_TOTAL_SEM, dots: THAL_TOTAL_DOTS, yMax: 3, yInterval: 1, showMin: false, showMax: true, separators: SEP4 });
  addBarPanel(o, { left: 251, top: 1774, width: 578, height: 281, means: THAL_SYN_MEAN, sems: THAL_SYN_SEM, dots: THAL_SYN_DOTS, yMax: 3.5, yInterval: 1, showMin: true, showMax: false, separators: SEP4, labels: PROTEINS_4, labelMargin: 12 });

  // significance mark in hippocampus total
  o.series.push({ type: "scatter", xAxisIndex: hT.xi, yAxisIndex: hT.yi, data: HIPP_SIG_MARK, symbol: "diamond", symbolSize: [17, 21], itemStyle: { color: "#959bd2" }, z: 6, silent: true });
  o.series.push({ type: "line", xAxisIndex: hT.xi, yAxisIndex: hT.yi, data: HIPP_SIG_BRACKET, symbol: "none", lineStyle: { color: "#222", width: 2.2 }, z: 6, silent: true });

  // Legend of panel A
  const legX = [279, 418];
  const legY = [119, 144, 169];
  GROUP_NAMES.forEach((name, i) => {
    const col = i < 3 ? 0 : 1;
    const row = i % 3;
    o.graphic.push({ type: "rect", x: legX[col], y: legY[row] - 6, z: 50, shape: { width: 12, height: 12 }, style: { fill: GROUP_COLORS[i] } });
    o.graphic.push({ type: "text", x: legX[col] + 21, y: legY[row], z: 50, style: { text: name, fontSize: 18, fontWeight: "bold", fontFamily: FONT, fill: LEGEND_TEXT_COLORS[i], align: "left", verticalAlign: "middle" } });
  });

  // Panel letters
  o.graphic.push({ type: "text", x: 65, y: 78, z: 50, style: { text: "A", fontSize: 66, fontWeight: "bold", fontFamily: FONT, fill: "#111", align: "center", verticalAlign: "middle" } });
  o.graphic.push({ type: "text", x: 1081, y: 78, z: 50, style: { text: "B", fontSize: 66, fontWeight: "bold", fontFamily: FONT, fill: "#111", align: "center", verticalAlign: "middle" } });

  // Region side bars and labels
  o.graphic.push({ type: "rect", x: 108, y: 93, z: 50, shape: { width: 4, height: 617 }, style: { fill: "#111" } });
  o.graphic.push({ type: "rect", x: 108, y: 774, z: 50, shape: { width: 4, height: 616 }, style: { fill: "#111" } });
  o.graphic.push({ type: "rect", x: 108, y: 1470, z: 50, shape: { width: 4, height: 637 }, style: { fill: "#111" } });
  vText(o, "Cortex", 63, 411, 46);
  vText(o, "Hippocampus", 63, 1095, 47);
  vText(o, "Thalamus/Hypothalamus", 63, 1781, 42);
  vText(o, "Total", 152, 253, 36);
  vText(o, "Syn", 152, 541, 36);
  vText(o, "Total", 152, 932, 36);
  vText(o, "Syn", 152, 1212, 36);
  vText(o, "Total", 152, 1640, 36);
  vText(o, "Syn", 152, 1920, 36);
  vText(o, "Protein levels (normalized values)", 198, 404, 35);
  vText(o, "Protein levels (normalized values)", 198, 1068, 35);
  vText(o, "Protein levels (normalized values)", 198, 1785, 35);

  // Scatter legend (panel B)
  const sLegY = [74, 101, 128];
  o.graphic.push({ type: "circle", x: 1155, y: sLegY[0], z: 50, shape: { r: 5 }, style: { fill: "#111" } });
  o.graphic.push({ type: "circle", x: 1155, y: sLegY[1], z: 50, shape: { r: 5 }, style: { fill: "#acacac" } });
  o.graphic.push({ type: "circle", x: 1155, y: sLegY[2], z: 50, shape: { r: 4.5 }, style: { fill: "none", stroke: "#a9a9a9", lineWidth: 2.5 } });
  SCATTER_LEGEND.forEach((t, i) => {
    o.graphic.push({ type: "text", x: 1181, y: sLegY[i], z: 50, style: { text: t, fontSize: 22, fontFamily: FONT, fill: "#222", align: "left", verticalAlign: "middle" } });
  });

  const SWS = "SWS ZT13-17 (min)";
  const PS = "PS ZT13-17 (min)";
  const scatters = [
    { left: 1179, top: 159, width: 317, height: 223, xMax: 2, xInt: 0.5, dec: 1, yMax: 200, yInt: 50, sal: C_SWS_GLUR1_SAL, r50: C_SWS_GLUR1_R50, r100: C_SWS_GLUR1_R100, fit: FIT_C_SWS_GLUR1, statX: 1192, statY: 180, statAlign: "left", yTitle: [SWS, 1112, 270] },
    { left: 1571, top: 156, width: 322, height: 226, xMax: 3, xInt: 1, dec: 0, yMax: 200, yInt: 50, sal: C_SWS_PGLUR1_SAL, r50: C_SWS_PGLUR1_R50, r100: C_SWS_PGLUR1_R100, statX: 1890, statY: 309, statAlign: "right" },
    { left: 1180, top: 426, width: 329, height: 233, xMax: 2, xInt: 0.5, dec: 1, yMax: 20, yInt: 5, sal: C_PS_GLUR1_SAL, r50: C_PS_GLUR1_R50, r100: C_PS_GLUR1_R100, fit: FIT_C_PS_GLUR1, statX: 1192, statY: 448, statAlign: "left", yTitle: [PS, 1112, 542], xTitle: ["Total GLUR1 Cortex", 1344, 711] },
    { left: 1573, top: 432, width: 323, height: 227, xMax: 3, xInt: 1, dec: 0, yMax: 20, yInt: 5, sal: C_PS_PGLUR1_SAL, r50: C_PS_PGLUR1_R50, r100: C_PS_PGLUR1_R100, statX: 1890, statY: 583, statAlign: "right", xTitle: ["Total pGLUR1/GLUR1 Cortex", 1734, 711] },
    { left: 1182, top: 811, width: 322, height: 226, xMax: 2, xInt: 0.5, dec: 1, yMax: 200, yInt: 50, sal: H_SWS_EPHA4_SAL, r50: H_SWS_EPHA4_R50, r100: H_SWS_EPHA4_R100, statX: 1491, statY: 834, statAlign: "right", yTitle: [SWS, 1112, 922] },
    { left: 1574, top: 811, width: 320, height: 226, xMax: 2, xInt: 0.5, dec: 1, yMax: 200, yInt: 50, sal: H_SWS_NR2B_SAL, r50: H_SWS_NR2B_R50, r100: H_SWS_NR2B_R100, statX: 1885, statY: 834, statAlign: "right" },
    { left: 1182, top: 1094, width: 327, height: 228, xMax: 2, xInt: 0.5, dec: 1, yMax: 20, yInt: 5, sal: H_PS_EPHA4_SAL, r50: H_PS_EPHA4_R50, r100: H_PS_EPHA4_R100, statX: 1495, statY: 1135, statAlign: "right", yTitle: [PS, 1112, 1206], xTitle: ["Total EPHA4 Hippocampus", 1346, 1372] },
    { left: 1575, top: 1094, width: 323, height: 228, xMax: 2, xInt: 0.5, dec: 1, yMax: 20, yInt: 5, sal: H_PS_NR2B_SAL, r50: H_PS_NR2B_R50, r100: H_PS_NR2B_R100, statX: 1889, statY: 1136, statAlign: "right", xTitle: ["Tot NR2B Hippocampus", 1737, 1372] },
    { left: 1179, top: 1475, width: 330, height: 231, xMax: 4, xInt: 1, dec: 0, yMax: 200, yInt: 50, sal: T_SWS_NR2B_SAL, r50: T_SWS_NR2B_R50, r100: T_SWS_NR2B_R100, statX: 1489, statY: 1478, statAlign: "right", yTitle: [SWS, 1107, 1593] },
    { left: 1571, top: 1475, width: 329, height: 231, xMax: 4, xInt: 1, dec: 0, yMax: 200, yInt: 50, sal: T_SWS_GLUR1_SAL, r50: T_SWS_GLUR1_R50, r100: T_SWS_GLUR1_R100, statX: 1881, statY: 1482, statAlign: "right" },
    { left: 1182, top: 1774, width: 336, height: 234, xMax: 4, xInt: 1, dec: 0, yMax: 20, yInt: 5, sal: T_PS_NR2B_SAL, r50: T_PS_NR2B_R50, r100: T_PS_NR2B_R100, statX: 1494, statY: 1780, statAlign: "right", yTitle: [PS, 1107, 1891], xTitle: ["Syn NR2B Thal/Hypothal", 1350, 2068] },
    { left: 1571, top: 1776, width: 332, height: 233, xMax: 4, xInt: 1, dec: 0, yMax: 20, yInt: 5, sal: T_PS_GLUR1_SAL, r50: T_PS_GLUR1_R50, r100: T_PS_GLUR1_R100, fit: FIT_T_PS_GLUR1, statX: 1890, statY: 1783, statAlign: "right", xTitle: ["Syn GLUR1 Thal/Hypothal", 1739, 2072] },
  ];
  scatters.forEach((c, i) => addScatterPanel(o, c, i));
  return o;
}

export default function App() {
  const ref = useRef<HTMLDivElement>(null);
  useEffect(() => {
    const chart = echarts.init(ref.current as HTMLDivElement, null, { renderer: "svg" });
    chart.setOption(buildOption());
    return () => chart.dispose();
  }, []);
  return <div ref={ref} style={{ position: "absolute", left: 0, top: 0, width: W, height: H, background: "#fff" }} />;
}
